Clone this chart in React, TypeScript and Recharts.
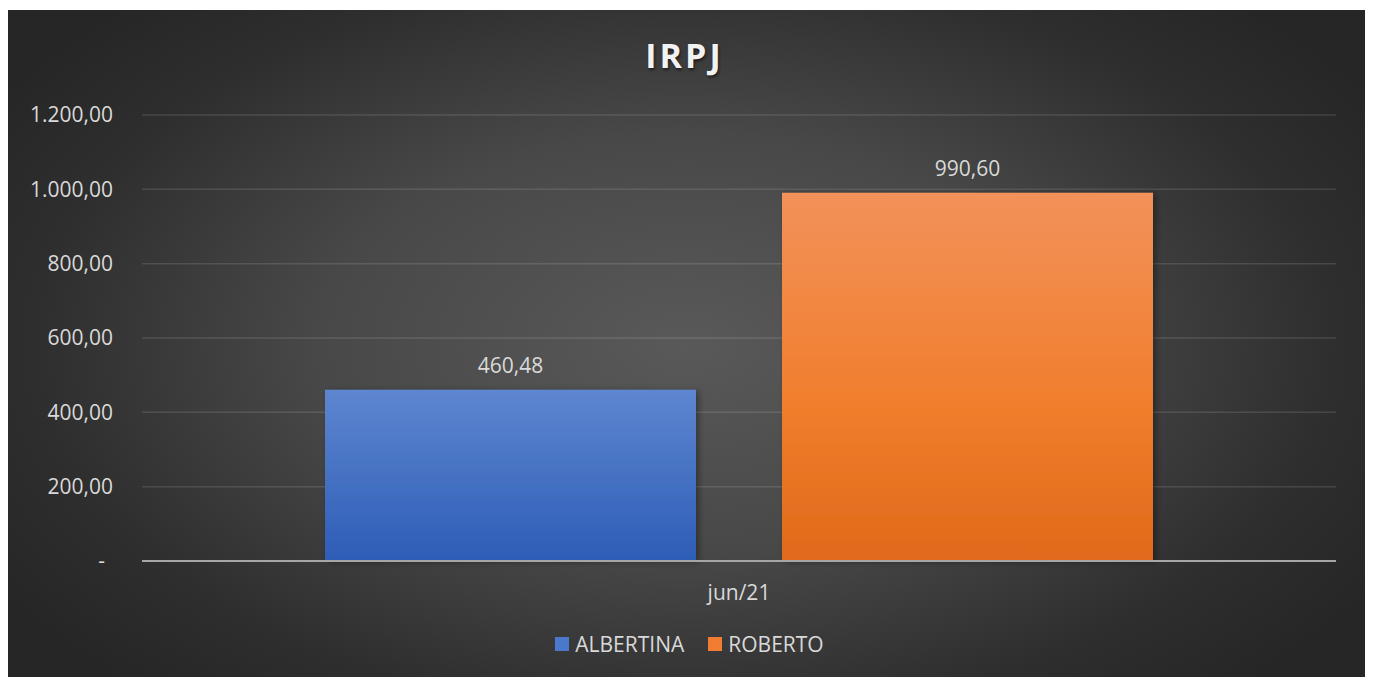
import { BarChart, Bar, XAxis, YAxis, CartesianGrid, Legend, LabelList } from "recharts";

const CATEGORIES = ["jun/21"];
const ALBERTINA = [460.48];
const ROBERTO = [990.6];
const Y_TICKS = [0, 200, 400, 600, 800, 1000, 1200];

const SERIES = [
  { key: "ALBERTINA", label: "ALBERTINA", fill: "url(#gradBlue)", swatch: "#4a78cc" },
  { key: "ROBERTO", label: "ROBERTO", fill: "url(#gradOrange)", swatch: "#f07d31" },
];

const TEXT = "#d9d9d9";
const FONT = "'Open Sans', 'Noto Sans', sans-serif";
const FS = 21;

const data = CATEGORIES.map((c, i) => ({
  month: c,
  ALBERTINA: ALBERTINA[i],
  ROBERTO: ROBERTO[i],
}));

// 1234.5 -> "1.234,50"
function brl(v: number) {
  const [int, dec] = v.toFixed(2).split(".");
  const withDots = int.replace(/\B(?=(\d{3})+(?!\d))/g, ".");
  return `${withDots},${dec}`;
}

function YTick({ x, y, payload }: any) {
  const zero = payload.value === 0;
  return (
    <text
      x={zero ? x - 8 : x}
      y={y}
      dy="0.35em"
      textAnchor="end"
      fill={TEXT}
      fontSize={FS}
      fontFamily={FONT}
    >
      {zero ? "-" : brl(payload.value)}
    </text>
  );
}

function LegendBox() {
  return (
    <div
      style={{
        display: "flex",
        justifyContent: "center",
        alignItems: "center",
        gap: 24,
        fontFamily: FONT,
        fontSize: FS,
        color: TEXT,
        paddingLeft: 37,
      }}
    >
      {SERIES.map((s) => (
        <div key={s.key} style={{ display: "flex", alignItems: "center", gap: 6 }}>
          <span style={{ width: 14, height: 14, background: s.swatch, display: "inline-block" }} />
          <span>{s.label}</span>
        </div>
      ))}
    </div>
  );
}

export default function App() {
  return (
    <div
      style={{
        position: "relative",
        width: 1359,
        height: 667,
        marginLeft: -2,
        marginTop: 2,
        background:
          "radial-gradient(ellipse 60% 70% at 50% 50%, #595959 0%, #484848 45%, #2e2e2e 80%, #262626 100%)",
        fontFamily: FONT,
      }}
    >
      <div
        style={{
          position: "absolute",
          top: 28,
          left: 0,
          width: "100%",
          textAlign: "center",
          fontSize: 34,
          lineHeight: "34px",
          fontWeight: 700,
          letterSpacing: 3,
          color: "#f2f2f2",
          textShadow: "1px 2px 3px rgba(0,0,0,0.55)",
          paddingRight: 2,
          boxSizing: "border-box",
        }}
      >
        IRPJ
      </div>
      <BarChart
        width={1359}
        height={667}
        data={data}
        margin={{ top: 105, right: 29, left: 0, bottom: 17 }}
        barCategoryGap={183}
        barGap={86}
        style={{ position: "absolute", top: 0, left: 0 }}
      >
        <defs>
          <linearGradient id="gradBlue" x1="0" y1="0" x2="0" y2="1">
            <stop offset="0%" stopColor="#5e86d0" />
            <stop offset="100%" stopColor="#2d5db7" />
          </linearGradient>
          <linearGradient id="gradOrange" x1="0" y1="0" x2="0" y2="1">
            <stop offset="0%" stopColor="#f2915a" />
            <stop offset="55%" stopColor="#f17f2e" />
            <stop offset="100%" stopColor="#e1691a" />
          </linearGradient>
          <filter id="barShadow" x="-10%" y="-10%" width="120%" height="120%">
            <feDropShadow dx="3" dy="1" stdDeviation="3" floodColor="#000" floodOpacity="0.35" />
          </filter>
        </defs>
        <CartesianGrid vertical={false} stroke="rgba(255,255,255,0.12)" strokeWidth={1.5} />
        <XAxis
          dataKey="month"
          axisLine={{ stroke: "#a6a6a6", strokeWidth: 2 }}
          tickLine={false}
          tickSize={0}
          tickMargin={24}
          height={69}
          tick={{ fill: TEXT, fontSize: FS, fontFamily: FONT }}
        />
        <YAxis
          domain={[0, 1200]}
          ticks={Y_TICKS}
          width={136}
          axisLine={false}
          tickLine={false}
          tickSize={0}
          tickMargin={29}
          interval={0}
          tick={<YTick />}
        />
        <Legend verticalAlign="bottom" height={30} content={<LegendBox />} />
        {SERIES.map((s) => (
          <Bar
            key={s.key}
            dataKey={s.key}
            name={s.label}
            fill={s.fill}
            filter="url(#barShadow)"
            isAnimationActive={false}
          >
            <LabelList
              dataKey={s.key}
              position="top"
              offset={17}
              fill={TEXT}
              fontSize={FS}
              fontFamily={FONT}
              formatter={(v: any) => brl(Number(v))}
            />
          </Bar>
        ))}
      </BarChart>
    </div>
  );
}
